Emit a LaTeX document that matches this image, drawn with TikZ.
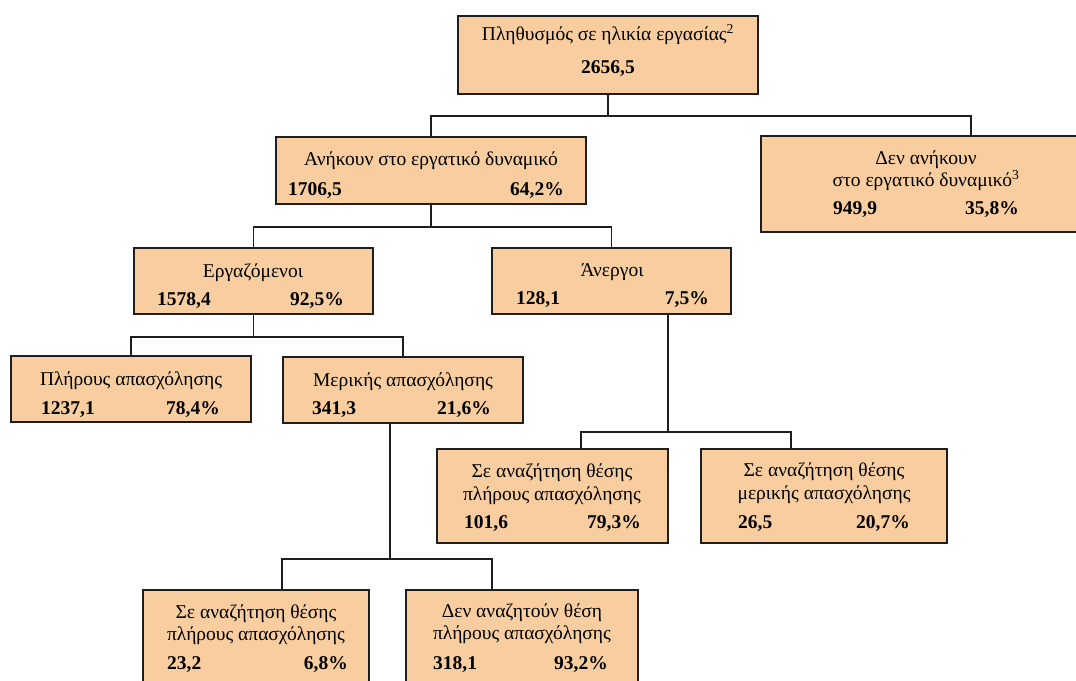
\documentclass[tikz,border=0pt]{standalone}
\usepackage{fontspec}
\setmainfont{Liberation Serif}
\definecolor{boxfill}{RGB}{248,206,160}
\definecolor{linec}{RGB}{30,30,30}
\newcommand{\fsz}{\fontsize{19.5}{23}\selectfont}
\tikzset{
  box/.style={draw=linec, line width=1.6pt, fill=boxfill, anchor=north west, inner sep=0pt, outer sep=0pt},
  lbl/.style={anchor=mid, inner sep=0pt, font=\fsz, yshift=-3.5pt},
  numl/.style={anchor=mid west, inner sep=0pt, font=\fsz\bfseries, yshift=-3.5pt},
  numr/.style={anchor=mid east, inner sep=0pt, font=\fsz\bfseries, yshift=-3.5pt},
  numc/.style={anchor=mid, inner sep=0pt, font=\fsz\bfseries, yshift=-3.5pt},
  conn/.style={draw=linec, line width=1.5pt},
}
\begin{document}
\begin{tikzpicture}[x=1pt,y=-1pt]
\useasboundingbox[fill=white] (0,0) rectangle (1076,680);
% boxes
\node[box, minimum width=300pt, minimum height=78pt] (top) at (458,16) {};
\node[box, minimum width=310pt, minimum height=67pt] (anikoun) at (276,137) {};
\node[box, minimum width=330pt, minimum height=96pt] (denan) at (761,136) {};
\node[box, minimum width=239pt, minimum height=66pt] (ergaz) at (134,248) {};
\node[box, minimum width=239pt, minimum height=66pt] (anergoi) at (492,248) {};
\node[box, minimum width=240pt, minimum height=66pt] (pliris) at (11,356) {};
\node[box, minimum width=240pt, minimum height=66pt] (merikis) at (283,357) {};
\node[box, minimum width=231pt, minimum height=94pt] (sefull) at (437,449) {};
\node[box, minimum width=246pt, minimum height=94pt] (separt) at (701,449) {};
\node[box, minimum width=226pt, minimum height=110pt] (mfull) at (143,590) {};
\node[box, minimum width=232pt, minimum height=110pt] (mnot) at (406,590) {};
% connectors
\coordinate (j1) at ([yshift=-22pt]top.south);
\draw[conn] (top.south) -- (j1);
\draw[conn] (anikoun.north) |- (j1) -| ([xshift=210pt]denan.north west);
\coordinate (j2) at ([yshift=-23pt]anikoun.south);
\draw[conn] (anikoun.south) -- (j2);
\draw[conn] (ergaz.north) |- (j2) -| (anergoi.north);
\coordinate (j3) at ([yshift=-23pt]ergaz.south);
\draw[conn] (ergaz.south) -- (j3);
\draw[conn] (pliris.north) |- (j3) -| (merikis.north);
\coordinate (j4) at (668,432);
\draw[conn] ([xshift=176pt]anergoi.south west) -- (j4);
\draw[conn] ([xshift=144pt]sefull.north west) |- (j4) -| ([xshift=90pt]separt.north west);
\coordinate (j5) at (390,559);
\draw[conn] ([xshift=107pt]merikis.south west) -- (j5);
\draw[conn] ([xshift=139pt]mfull.north west) |- (j5) -| ([xshift=86pt]mnot.north west);
% texts
\node[lbl] (top-a) at (608,35) {Πληθυσμός σε ηλικία εργασίας\textsuperscript{2}};
\node[numc] (top-n) at (608,68) {2656,5};
\node[lbl] (ani-a) at (431,160) {Ανήκουν στο εργατικό δυναμικό};
\node[numl] (ani-n) at (288,190) {1706,5};
\node[numr] (ani-p) at (564,190) {64,2\%};
\node[lbl] (den-a) at (926,159) {Δεν ανήκουν};
\node[lbl] (den-b) at (926,181) {στο εργατικό δυναμικό\textsuperscript{3}};
\node[numl] (den-n) at (833,209) {949,9};
\node[numr] (den-p) at (1019,209) {35,8\%};
\node[lbl] (erg-a) at (253,272) {Εργαζόμενοι};
\node[numl] (erg-n) at (157,300) {1578,4};
\node[numr] (erg-p) at (344,300) {92,5\%};
\node[lbl] (ane-a) at (612,271) {Άνεργοι};
\node[numl] (ane-n) at (516,299) {128,1};
\node[numr] (ane-p) at (709,299) {7,5\%};
\node[lbl] (pli-a) at (131,380) {Πλήρους απασχόλησης};
\node[numl] (pli-n) at (41,409) {1237,1};
\node[numr] (pli-p) at (220,409) {78,4\%};
\node[lbl] (mer-a) at (403,381) {Μερικής απασχόλησης};
\node[numl] (mer-n) at (312,409) {341,3};
\node[numr] (mer-p) at (491,409) {21,6\%};
\node[lbl] (sef-a) at (552,472) {Σε αναζήτηση θέσης};
\node[lbl] (sef-b) at (552,495) {πλήρους απασχόλησης};
\node[numl] (sef-n) at (464,523) {101,6};
\node[numr] (sef-p) at (641,523) {79,3\%};
\node[lbl] (sep-a) at (824,471) {Σε αναζήτηση θέσης};
\node[lbl] (sep-b) at (824,494) {μερικής απασχόλησης};
\node[numl] (sep-n) at (738,523) {26,5};
\node[numr] (sep-p) at (910,523) {20,7\%};
\node[lbl] (mf-a) at (256,613) {Σε αναζήτηση θέσης};
\node[lbl] (mf-b) at (256,635) {πλήρους απασχόλησης};
\node[numl] (mf-n) at (167,664) {23,2};
\node[numr] (mf-p) at (348,664) {6,8\%};
\node[lbl] (mn-a) at (522,612) {Δεν αναζητούν θέση};
\node[lbl] (mn-b) at (522,634) {πλήρους απασχόλησης};
\node[numl] (mn-n) at (433,664) {318,1};
\node[numr] (mn-p) at (608,664) {93,2\%};
\end{tikzpicture}
\end{document}
